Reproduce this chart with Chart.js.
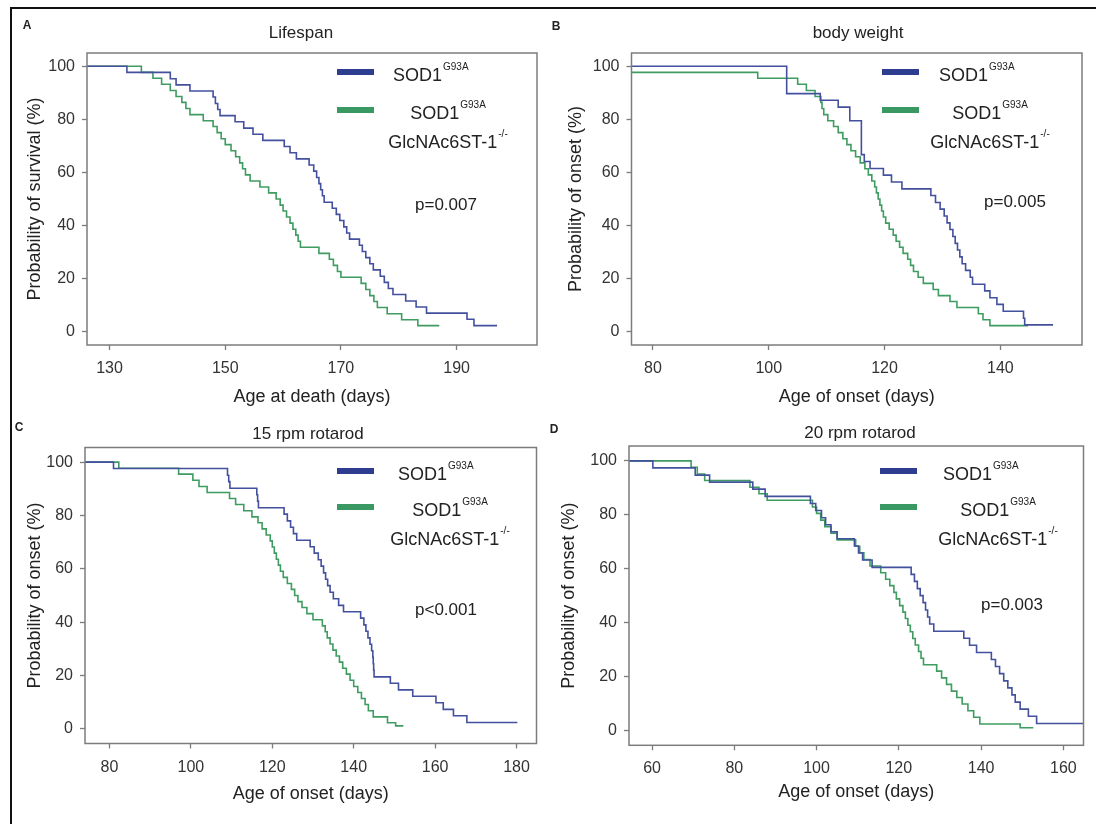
<!DOCTYPE html>
<html><head><meta charset="utf-8">
<script src="https://cdn.jsdelivr.net/npm/chart.js@4.4.1/dist/chart.umd.min.js"></script>
<style>
html,body{margin:0;padding:0;background:#fff;}
#fig{position:relative;width:1096px;height:824px;overflow:hidden;font-family:"Liberation Sans",Arial,sans-serif;color:#222;background:#fff;}
canvas{position:absolute;}
.border{position:absolute;left:10px;top:7px;width:1100px;height:830px;border-top:2px solid #111;border-left:2px solid #111;}
.lt{position:absolute;font-weight:bold;font-size:12px;transform:translate(-50%,-50%);}
.ttl,.pv{position:absolute;font-size:17px;transform:translate(-50%,-50%);white-space:nowrap;}
.sw{position:absolute;height:6px;width:37px;}
.lb{position:absolute;font-size:18px;line-height:22px;white-space:nowrap;}
.lg{position:absolute;font-size:18px;line-height:26px;text-align:center;white-space:nowrap;transform:translateX(-50%);}
.sp{font-size:10px;position:relative;top:-11px;margin-left:1px;}
</style></head>
<body>
<div id="fig">
<canvas id="cA" width="548" height="412" style="left:0;top:0"></canvas>
<canvas id="cB" width="548" height="412" style="left:548px;top:0"></canvas>
<canvas id="cC" width="548" height="412" style="left:0;top:412px"></canvas>
<canvas id="cD" width="548" height="412" style="left:548px;top:412px"></canvas>
<div class="border"></div>

<div class="lt" style="left:27px;top:25px">A</div>
<div class="lt" style="left:556px;top:26px">B</div>
<div class="lt" style="left:19px;top:427px">C</div>
<div class="lt" style="left:554px;top:429px">D</div>

<div class="ttl" style="left:301px;top:33px">Lifespan</div>
<div class="ttl" style="left:858px;top:33px">body weight</div>
<div class="ttl" style="left:308px;top:434px">15 rpm rotarod</div>
<div class="ttl" style="left:860px;top:433px">20 rpm rotarod</div>

<div class="pv" style="left:446px;top:205px">p=0.007</div>
<div class="pv" style="left:1015px;top:202px">p=0.005</div>
<div class="pv" style="left:446px;top:610px">p&lt;0.001</div>
<div class="pv" style="left:1012px;top:605px">p=0.003</div>

<!-- legends -->
<div class="sw" style="left:337px;top:69px;background:#2e3d8f"></div>
<div class="sw" style="left:337px;top:107px;background:#3a9862"></div>
<div class="lb" style="left:393px;top:64px">SOD1<span class="sp">G93A</span></div>
<div class="lg" style="left:448px;top:100px">SOD1<span class="sp">G93A</span><br>GlcNAc6ST-1<span class="sp">-/-</span></div>

<div class="sw" style="left:882px;top:69px;background:#2e3d8f"></div>
<div class="sw" style="left:882px;top:107px;background:#3a9862"></div>
<div class="lb" style="left:939px;top:64px">SOD1<span class="sp">G93A</span></div>
<div class="lg" style="left:990px;top:100px">SOD1<span class="sp">G93A</span><br>GlcNAc6ST-1<span class="sp">-/-</span></div>

<div class="sw" style="left:337px;top:468px;background:#2e3d8f"></div>
<div class="sw" style="left:337px;top:504px;background:#3a9862"></div>
<div class="lb" style="left:398px;top:463px">SOD1<span class="sp">G93A</span></div>
<div class="lg" style="left:450px;top:497px">SOD1<span class="sp">G93A</span><br>GlcNAc6ST-1<span class="sp">-/-</span></div>

<div class="sw" style="left:880px;top:468px;background:#2e3d8f"></div>
<div class="sw" style="left:880px;top:504px;background:#3a9862"></div>
<div class="lb" style="left:943px;top:463px">SOD1<span class="sp">G93A</span></div>
<div class="lg" style="left:998px;top:497px">SOD1<span class="sp">G93A</span><br>GlcNAc6ST-1<span class="sp">-/-</span></div>
</div>

<script>
// ---------- data (days, % remaining) ----------
const lifespanCtrlDays = [0,133.0,140.5,141.5,143.9,147.9,148.3,148.7,149.1,151.7,153.2,154.8,156.5,160.2,161.2,162.3,164.5,165.3,165.8,166.2,166.5,166.8,167.1,168.5,169.2,169.8,170.5,171.0,171.5,173.2,173.7,174.3,175.0,175.6,176.8,177.5,178.2,179.0,181.2,183.0,184.8,191.8,193.0,197.0];
const lifespanCtrlPct  = [100,97.7,95.3,93.0,90.7,88.4,86.0,83.7,81.4,79.1,76.7,74.4,72.1,69.8,67.4,65.1,62.8,60.5,58.1,55.8,53.5,51.2,48.8,46.5,44.2,41.9,39.5,37.2,34.9,32.6,30.2,27.9,25.6,23.3,20.9,18.6,16.3,14.0,11.6,9.3,7.0,4.7,2.3,2.3];
const lifespanKoDays = [0,135.5,137.5,139.0,140.5,141.5,142.5,143.2,143.9,146.2,147.9,148.6,149.3,150.0,151.0,151.8,152.5,153.0,153.5,154.3,156.0,157.5,158.8,159.5,160.0,160.6,161.2,161.7,162.2,162.6,163.0,166.2,168.0,168.7,169.4,170.0,173.5,174.3,175.0,175.7,176.3,178.0,180.5,183.3,187.0];
const lifespanKoPct  = [100,97.7,95.5,93.2,90.9,88.6,86.4,84.1,81.8,79.5,77.3,75.0,72.7,70.5,68.2,65.9,63.6,61.4,59.1,56.8,54.5,52.3,50.0,47.7,45.5,43.2,40.9,38.6,36.4,34.1,31.8,29.5,27.3,25.0,22.7,20.5,18.2,15.9,13.6,11.4,9.1,6.8,4.5,2.3,2.3];

const weightCtrlDays = [0,103.1,108.9,112.0,114.0,116.0,116.5,117.5,119.8,121.2,123.0,128.0,128.8,129.6,130.3,130.8,131.3,131.8,132.2,132.6,133.0,133.4,134.0,134.8,135.2,137.3,138.2,139.4,140.5,144.0,144.2,149.1];
const weightCtrlPct  = [100,89.7,87.2,84.6,79.5,66.7,64.1,61.5,59.0,56.4,53.8,51.3,48.7,46.2,43.6,41.0,38.5,35.9,33.3,30.8,28.2,25.6,23.1,20.5,17.9,15.4,12.8,10.3,7.7,5.1,2.6,2.6];
const weightKoDays = [0,75.0,98.1,105.0,106.5,108.0,109.0,109.2,109.5,110.2,111.2,112.0,112.8,113.5,114.2,115.0,115.8,116.6,117.2,117.8,118.3,118.6,118.9,119.2,119.5,119.8,120.2,120.8,121.5,122.0,122.6,123.2,124.0,124.5,125.0,125.8,126.7,128.4,129.3,131.3,132.5,136.2,137.0,138.2,144.8];
const weightKoPct  = [100,97.7,95.5,93.2,90.9,88.6,86.4,84.1,81.8,79.5,77.3,75.0,72.7,70.5,68.2,65.9,63.6,61.4,59.1,56.8,54.5,52.3,50.0,47.7,45.5,43.2,40.9,38.6,36.4,34.1,31.8,29.5,27.3,25.0,22.7,20.5,18.2,15.9,13.6,11.4,9.1,6.8,4.5,2.3,2.3];

const rotarod15CtrlDays = [0,81.0,109.0,109.3,109.6,116.2,116.4,116.6,122.9,123.7,124.5,125.2,126.0,129.3,130.3,131.3,132.0,132.6,133.1,133.6,134.2,135.0,136.3,137.5,141.7,142.5,143.0,143.5,144.0,144.4,144.7,144.8,144.9,145.0,149.0,151.0,154.5,160.2,162.0,164.5,167.8,180.2];
const rotarod15CtrlPct  = [100,97.6,95.1,92.7,90.2,87.8,85.4,82.9,80.5,78.0,75.6,73.2,70.7,68.3,65.9,63.4,61.0,58.5,56.1,53.7,51.2,48.8,46.3,43.9,41.5,39.0,36.6,34.1,31.7,29.3,26.8,24.4,22.0,19.5,17.1,14.6,12.2,9.8,7.3,4.9,2.4,2.4];
const rotarod15KoDays = [0,82.3,97.0,100.5,102.0,104.0,109.5,111.0,113.0,115.0,116.5,117.5,118.5,119.5,120.0,120.5,121.0,121.5,122.0,122.7,123.7,124.7,125.5,126.3,127.3,128.5,130.0,132.3,133.0,133.5,134.2,134.9,135.7,136.5,137.3,138.2,139.1,140.0,141.0,141.9,142.8,143.6,144.8,148.3,150.3,152.2];
const rotarod15KoPct  = [100,97.7,95.5,93.2,90.9,88.6,86.4,84.1,81.8,79.5,77.3,75.0,72.7,70.5,68.2,65.9,63.6,61.4,59.1,56.8,54.5,52.3,50.0,47.7,45.5,43.2,40.9,38.6,36.4,34.1,31.8,29.5,27.3,25.0,22.7,20.5,18.2,15.9,13.6,11.4,9.1,6.8,4.5,2.3,1.1,1.1];

const rotarod20CtrlDays = [0,60.2,70.5,74.0,84.5,87.5,98.5,99.8,101.2,102.2,103.5,105.0,109.2,110.2,111.2,113.5,123.0,123.8,124.5,125.2,125.9,126.5,127.0,127.5,128.5,135.8,137.2,138.9,142.5,143.5,144.5,145.5,146.5,147.5,148.3,149.5,151.5,153.5,165.0];
const rotarod20CtrlPct  = [100,97.4,94.7,92.1,89.5,86.8,84.2,81.6,78.9,76.3,73.7,71.1,68.4,65.8,63.2,60.5,57.9,55.3,52.6,50.0,47.4,44.7,42.1,39.5,36.8,34.2,31.6,28.9,26.3,23.7,21.1,18.4,15.8,13.2,10.5,7.9,5.3,2.6,2.6];
const rotarod20KoDays = [0,69.5,71.0,72.8,83.8,86.0,88.0,99.0,100.0,101.0,102.0,103.5,105.0,109.5,110.5,111.5,113.0,115.6,116.8,117.8,118.8,119.4,120.2,121.0,121.6,122.2,122.8,123.4,124.0,124.8,125.4,126.0,129.2,130.4,131.6,132.8,134.1,135.4,136.8,138.2,139.7,149.5,152.7];
const rotarod20KoPct  = [100,97.6,95.1,92.7,90.2,87.8,85.4,82.9,80.5,78.0,75.6,73.2,70.7,68.3,65.9,63.4,61.0,58.5,56.1,53.7,51.2,48.8,46.3,43.9,41.5,39.0,36.6,34.1,31.7,29.3,26.8,24.4,22.0,19.5,17.1,14.6,12.2,9.8,7.3,4.9,2.4,1.0,1.0];

// tick labels
const lifespanTicks = [130,150,170,190];
const weightTicks = [80,100,120,140];
const rotarod15Ticks = [80,100,120,140,160,180];
const rotarod20Ticks = [60,80,100,120,140,160];
const pctTicks = [0,20,40,60,80,100];

const seriesNames = ['SOD1 G93A','SOD1 G93A GlcNAc6ST-1 -/-'];

// ---------- drawing ----------
const BLUE = '#43509e', GREEN = '#3f9c60';
const framePlugin = {
  id:'frame',
  afterDatasetsDraw(chart){
    const {ctx, chartArea:a} = chart;
    ctx.save(); ctx.strokeStyle='#7c7c7c'; ctx.lineWidth=1.5;
    ctx.strokeRect(a.left, a.top, a.right-a.left, a.bottom-a.top);
    ctx.restore();
  }
};
function pts(d,p){ return d.map((x,i)=>({x:x,y:p[i]})); }

function panel(id, c){
  new Chart(document.getElementById(id), {
    type:'line',
    data:{datasets:[
      {label:seriesNames[0], data:pts(c.d1,c.p1), borderColor:BLUE, borderWidth:1.6, stepped:true, pointRadius:0, fill:false},
      {label:seriesNames[1], data:pts(c.d2,c.p2), borderColor:GREEN, borderWidth:1.6, stepped:true, pointRadius:0, fill:false}
    ]},
    options:{
      responsive:false, animation:false, events:[],
      layout:{padding:{left:0, top:c.top, right:c.right, bottom:0}},
      plugins:{legend:{display:false}, tooltip:{enabled:false}},
      scales:{
        x:{type:'linear', min:c.xmin, max:c.xmax,
           afterBuildTicks:s=>{ s.ticks = c.xt.map(v=>({value:v})); },
           afterFit:s=>{ s.height = c.xh; },
           grid:{display:true, drawOnChartArea:false, drawTicks:true, tickLength:5, color:'#7c7c7c', tickWidth:1.3},
           border:{display:false},
           ticks:{padding:9, color:'#333', font:{family:'"Liberation Sans", Arial, sans-serif', size:16}, maxRotation:0, autoSkip:false},
           title:{display:true, text:c.xl, color:'#222', font:{family:'"Liberation Sans", Arial, sans-serif', size:18}, padding:{top:0, bottom:c.xtp}}
        },
        y:{type:'linear', min:c.ymin, max:c.ymax,
           afterBuildTicks:s=>{ s.ticks = pctTicks.map(v=>({value:v})); },
           afterFit:s=>{ s.width = c.yw; },
           grid:{display:true, drawOnChartArea:false, drawTicks:true, tickLength:5, color:'#7c7c7c', tickWidth:1.3},
           border:{display:false},
           ticks:{padding:7, color:'#333', font:{family:'"Liberation Sans", Arial, sans-serif', size:16}},
           title:{display:true, text:c.yl, color:'#222', font:{family:'"Liberation Sans", Arial, sans-serif', size:18}, padding:{top:c.ytp, bottom:0}}
        }
      }
    },
    plugins:[framePlugin]
  });
}

panel('cA', {d1:lifespanCtrlDays, p1:lifespanCtrlPct, d2:lifespanKoDays, p2:lifespanKoPct,
  xmin:126.1, xmax:203.9, xt:lifespanTicks, ymin:-5, ymax:105,
  top:53, right:11, yw:87, xh:67, xtp:4.5, ytp:24,
  xl:'Age at death (days)', yl:'Probability of survival (%)'});
panel('cB', {d1:weightCtrlDays, p1:weightCtrlPct, d2:weightKoDays, p2:weightKoPct,
  xmin:76.3, xmax:154.1, xt:weightTicks, ymin:-5, ymax:105,
  top:53, right:14, yw:83.5, xh:67, xtp:4.5, ytp:17,
  xl:'Age of onset (days)', yl:'Probability of onset (%)'});
panel('cC', {d1:rotarod15CtrlDays, p1:rotarod15CtrlPct, d2:rotarod15KoDays, p2:rotarod15KoPct,
  xmin:74.0, xmax:184.9, xt:rotarod15Ticks, ymin:-5.5, ymax:105.5,
  top:35.5, right:11.5, yw:85, xh:80.5, xtp:19.5, ytp:24,
  xl:'Age of onset (days)', yl:'Probability of onset (%)'});
panel('cD', {d1:rotarod20CtrlDays, p1:rotarod20CtrlPct, d2:rotarod20KoDays, p2:rotarod20KoPct,
  xmin:54.4, xmax:164.9, xt:rotarod20Ticks, ymin:-5.5, ymax:105.5,
  top:34, right:12.5, yw:81, xh:78.7, xtp:21, ytp:10,
  xl:'Age of onset (days)', yl:'Probability of onset (%)'});
</script>
</body></html>
